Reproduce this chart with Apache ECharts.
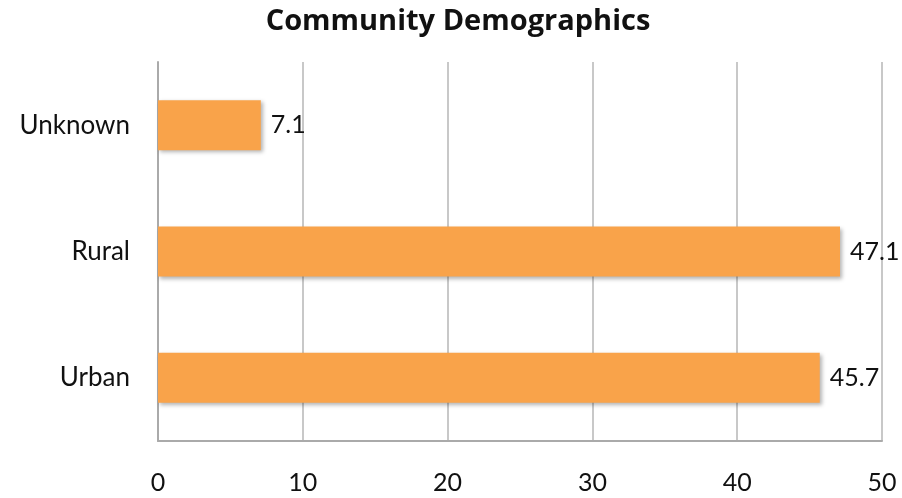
<!DOCTYPE html>
<html>
<head>
<meta charset="utf-8">
<script src="https://cdn.jsdelivr.net/npm/echarts@6/dist/echarts.min.js"></script>
<style>
  html, body { margin: 0; padding: 0; background: #fff; }
  #chart { width: 902px; height: 498px; }
</style>
</head>
<body>
<div id="chart"></div>
<script>
// Community share by area type (percent)
const categories = ['Urban', 'Rural', 'Unknown'];
const values = [45.7, 47.1, 7.1];
const xTicks = [0, 10, 20, 30, 40, 50];
const titleText = 'Community Demographics';

const font = 'Lato, "Open Sans", sans-serif';
const chart = echarts.init(document.getElementById('chart'), null, { renderer: 'canvas' });

chart.setOption({
  animation: false,
  graphic: [{
    type: 'text',
    x: 458,
    y: 22,
    style: {
      text: titleText,
      fontFamily: '"Open Sans", sans-serif',
      fontWeight: 'bold',
      fontSize: 29,
      fill: '#111',
      textAlign: 'center',
      textVerticalAlign: 'middle'
    }
  }],
  grid: { left: 158, right: 20, top: 62, bottom: 57, containLabel: false },
  xAxis: {
    type: 'value',
    min: xTicks[0],
    max: xTicks[xTicks.length - 1],
    interval: 10,
    axisLine: { show: true, lineStyle: { color: '#aaa', width: 2 } },
    axisTick: { show: false },
    axisLabel: { fontFamily: font, fontSize: 25, color: '#111', margin: 29 },
    splitLine: { show: true, lineStyle: { color: '#c8c8c8', width: 2 } }
  },
  yAxis: {
    type: 'category',
    data: categories,
    axisLine: { show: true, lineStyle: { color: '#aaa', width: 2 } },
    axisTick: { show: false },
    axisLabel: { fontFamily: font, fontSize: 26, color: '#111', margin: 28 }
  },
  series: [{
    type: 'bar',
    data: values,
    barWidth: 50,
    itemStyle: {
      color: '#F9A34A',
      shadowColor: 'rgba(0,0,0,0.3)',
      shadowBlur: 4,
      shadowOffsetX: 2,
      shadowOffsetY: 2
    },
    label: {
      show: true,
      position: 'right',
      distance: 10,
      fontFamily: font,
      fontSize: 25,
      color: '#111'
    }
  }]
});
</script>
</body>
</html>
